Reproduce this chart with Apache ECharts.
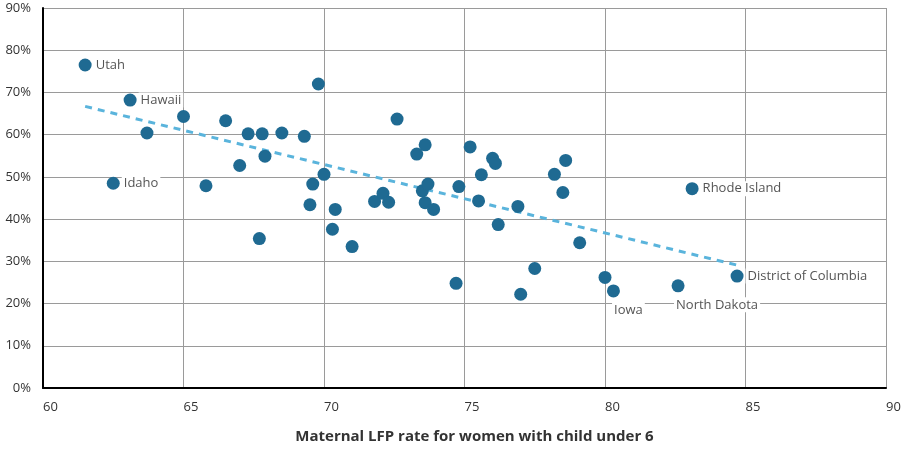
<!DOCTYPE html>
<html>
<head>
<meta charset="utf-8">
<style>
  html, body { margin: 0; padding: 0; background: #fff; }
  #chart { width: 901px; height: 454px; }
</style>
<script src="https://cdn.jsdelivr.net/npm/echarts@6/dist/echarts.min.js"></script>
</head>
<body>
<div id="chart"></div>
<script>
// Maternal LFP rate for women with child under 6 (x) vs. y share (%)
const lfpRate = [61.5, 63.1, 63.7, 62.5, 65.0, 65.8, 66.5, 67.0, 67.3, 67.8, 67.9, 68.5, 69.3, 69.8, 69.6, 70.0, 69.5, 70.4, 70.3, 71.0, 67.7, 71.8, 72.1, 72.3, 72.6, 73.3, 73.6, 73.5, 73.7, 73.6, 73.9, 75.2, 74.8, 75.6, 76.0, 76.1, 75.5, 76.9, 76.2, 78.2, 78.6, 78.5, 83.1, 74.7, 77.5, 77.0, 79.1, 80.0, 80.3, 82.6, 84.7];
const shareValue = [76.5, 68.2, 60.4, 48.5, 64.3, 47.9, 63.3, 52.7, 60.2, 60.2, 54.9, 60.4, 59.6, 72.0, 48.3, 50.6, 43.4, 42.3, 37.6, 33.5, 35.4, 44.2, 46.1, 44.0, 63.7, 55.4, 57.6, 46.7, 48.3, 43.9, 42.3, 57.1, 47.7, 50.5, 54.4, 53.2, 44.3, 43.0, 38.7, 50.6, 53.9, 46.3, 47.2, 24.8, 28.3, 22.2, 34.4, 26.2, 23.0, 24.2, 26.5];
const stateLabels = ['Utah', 'Hawaii', '', 'Idaho', '', '', '', '', '', '', '', '', '', '', '', '', '', '', '', '', '', '', '', '', '', '', '', '', '', '', '', '', '', '', '', '', '', '', '', '', '', '', 'Rhode Island', '', '', '', '', '', 'Iowa', 'North Dakota', 'District of Columbia'];
const trendX = [61.5, 84.7];
const trendY = [66.7, 29.1];
const xTicks = { min: 60, max: 90, interval: 5 };
const yTicks = { min: 0, max: 90, interval: 10 };

const FONT = 'Open Sans';
const belowLabels = {
  'Iowa': { position: 'bottom', distance: 5, offset: [15, 0] },
  'North Dakota': { position: 'bottom', distance: 5, offset: [39, 0] }
};

const points = lfpRate.map((x, i) => {
  const name = stateLabels[i];
  const item = { value: [x, shareValue[i]], name: name };
  if (name) {
    const b = belowLabels[name];
    item.label = Object.assign({
      show: true,
      formatter: name,
      position: 'right',
      distance: 2,
      color: '#555',
      fontFamily: FONT,
      fontSize: 13,
      backgroundColor: '#fff',
      padding: [1, 2]
    }, b || {});
  }
  return item;
});

const chart = echarts.init(document.getElementById('chart'), null, { renderer: 'canvas' });
chart.setOption({
  animation: false,
  backgroundColor: '#fff',
  grid: { left: 43, right: 15, top: 8, bottom: 66, containLabel: false, outerBoundsMode: 'none' },
  xAxis: {
    type: 'value',
    min: xTicks.min, max: xTicks.max, interval: xTicks.interval,
    name: 'Maternal LFP rate for women with child under 6',
    nameLocation: 'middle',
    nameGap: 41,
    nameTextStyle: { fontFamily: FONT, fontWeight: 'bold', fontSize: 15, color: '#333', padding: [0, 0, 0, 20] },
    axisLine: { show: true, onZero: false, lineStyle: { color: '#000', width: 2 } },
    axisTick: { show: false },
    axisLabel: { fontFamily: FONT, fontSize: 13, color: '#333', margin: 13, align: 'left' },
    splitLine: { show: true, lineStyle: { color: '#9a9a9a', width: 1 } }
  },
  yAxis: {
    type: 'value',
    min: yTicks.min, max: yTicks.max, interval: yTicks.interval,
    axisLine: { show: true, onZero: false, lineStyle: { color: '#000', width: 2 } },
    axisTick: { show: false },
    axisLabel: { fontFamily: FONT, fontSize: 13, color: '#333', margin: 12, formatter: '{value}%' },
    splitLine: { show: true, lineStyle: { color: '#9a9a9a', width: 1 } }
  },
  series: [
    {
      type: 'line',
      data: trendX.map((x, i) => [x, trendY[i]]),
      symbol: 'none',
      silent: true,
      z: 1,
      lineStyle: { color: '#5ab4dc', width: 3, type: [7, 6] }
    },
    {
      type: 'scatter',
      data: points,
      symbol: 'circle',
      symbolSize: 13,
      z: 2,
      itemStyle: { color: '#1f6a92', opacity: 1 }
    }
  ]
});
</script>
</body>
</html>
